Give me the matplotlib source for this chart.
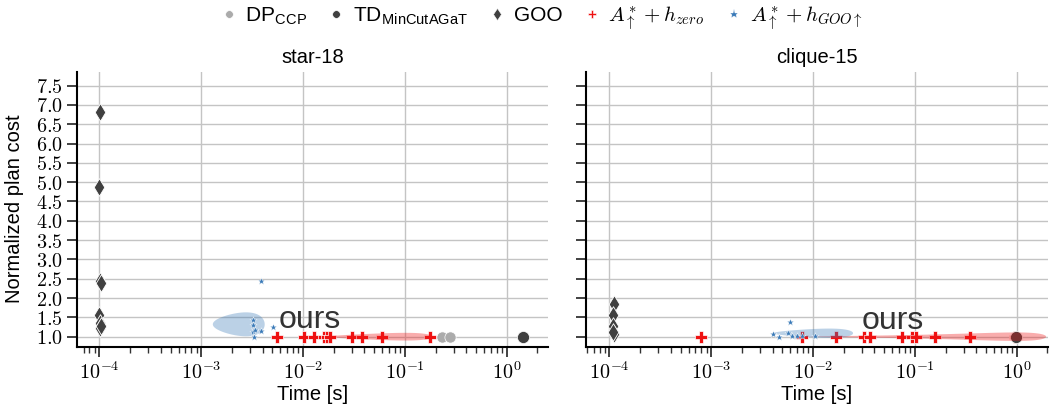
import numpy as np
import matplotlib
matplotlib.use('Agg')
import matplotlib.pyplot as plt
from matplotlib.lines import Line2D
from matplotlib.ticker import FuncFormatter, LogLocator, MultipleLocator

plt.rcParams['font.family'] = ['Liberation Sans', 'DejaVu Sans']
plt.rcParams['mathtext.fontset'] = 'cm'

TITLES = ["star-18", "clique-15"]

# per-panel data: (time [s], normalized plan cost)
dp_t = [[0.23, 0.275], []]
dp_c = [[1.0, 1.0], []]

td_t = [[1.45], [0.98]]
td_c = [[1.0], [1.0]]

goo_t = [[1.02e-4, 1.0e-4, 1.01e-4, 1.03e-4, 1.0e-4, 1.02e-4, 1.01e-4, 1.03e-4],
         [1.10e-4, 1.08e-4, 1.09e-4, 1.10e-4, 1.09e-4]]
goo_c = [[6.82, 4.88, 2.45, 2.40, 1.56, 1.35, 1.23, 1.28],
         [1.85, 1.56, 1.27, 1.08, 1.12]]

zero_t = [[0.0056, 0.0102, 0.0129, 0.016, 0.0172, 0.0184, 0.030, 0.038, 0.0596, 0.176],
          [0.00079, 0.00787, 0.0168, 0.0315, 0.036, 0.0743, 0.093, 0.103, 0.158, 0.346, 0.97]]
zero_c = [[1.0] * 10, [1.0] * 11]

goo_up_t = [[0.0039, 0.0032, 0.0032, 0.0032, 0.0034, 0.0039, 0.0051, 0.0033],
            [0.0040, 0.0046, 0.0059, 0.0057, 0.0062, 0.0070, 0.0078, 0.0104]]
goo_up_c = [[2.43, 1.42, 1.29, 1.11, 1.18, 1.15, 1.25, 1.0],
            [1.07, 1.0, 1.37, 1.1, 1.03, 1.03, 1.03, 1.03]]

# spread ellipses (center time, center cost, half-width time, half-height cost)
ell_zero = [(0.101, 1.0, 0.083, 0.10), (0.975, 1.0, 0.966, 0.11)]
ell_goo = [(0.00275, 1.32, 0.00145, 0.31), (0.0144, 1.09, 0.0103, 0.12)]

# "ours" label position
ours_t = [0.0058, 0.030]
ours_c = [1.22, 1.20]

LEGEND_LABELS = [r'DP$_\mathregular{CCP}$', r'TD$_\mathregular{MinCutAGaT}$', 'GOO',
                 r'$A^*_\uparrow + h_{zero}$', r'$A^*_\uparrow + h_{GOO\uparrow}$']

XLIMS = [(10 ** -4.219, 10 ** 0.405), (10 ** -4.229, 10 ** 0.307)]
YLIM = (0.745, 7.86)

C_DP = '#ababab'
C_TD = '#404040'
C_GOO = '#404040'
C_ZERO = '#ee1111'
C_GUP = '#3a7ab8'


def fill_ellipse(ax, cx, cy, a, b, color):
    t = np.linspace(0, 2 * np.pi, 400)
    ax.fill(cx + a * np.cos(t), cy + b * np.sin(t), color=color, alpha=0.34,
            lw=0, zorder=3)


fig = plt.figure(figsize=(10.64, 4.16), dpi=100)
axes = [fig.add_axes([0.0724, 0.167, 0.4427, 0.6606]),
        fig.add_axes([0.5508, 0.167, 0.4342, 0.6606])]

for i, ax in enumerate(axes):
    ax.set_xscale('log')
    ax.grid(True, which='major', color='#c4c4c4', lw=1.0, zorder=0)
    ax.set_axisbelow(True)

    ax.scatter(dp_t[i], dp_c[i], s=65, marker='o', color=C_DP,
               edgecolor='white', lw=0.5, zorder=2)
    ax.scatter(goo_t[i], goo_c[i], s=80, marker='d', color=C_GOO,
               edgecolor='white', lw=0.6, zorder=2)
    ax.scatter(zero_t[i], zero_c[i], s=65, marker='P', color=C_ZERO,
               edgecolor='white', lw=0.5, zorder=2.5)
    ax.scatter(td_t[i], td_c[i], s=75, marker='o', color=C_TD,
               edgecolor='white', lw=0.5, zorder=2.6)

    fill_ellipse(ax, *ell_zero[i], color=C_ZERO)
    fill_ellipse(ax, *ell_goo[i], color=C_GUP)

    ax.scatter(goo_up_t[i], goo_up_c[i], s=30, marker='*', color=C_GUP,
               edgecolor='white', lw=0.3, zorder=4)

    ax.text(ours_t[i], ours_c[i], 'ours', fontsize=23, color='#333333', zorder=5)

    ax.set_xlim(*XLIMS[i])
    ax.set_ylim(*YLIM)
    ax.yaxis.set_major_locator(MultipleLocator(0.5))
    ax.xaxis.set_major_locator(LogLocator(base=10, numticks=10))
    ax.xaxis.set_minor_locator(LogLocator(base=10, subs=np.arange(2, 10), numticks=20))
    ax.xaxis.set_major_formatter(FuncFormatter(lambda v, p: r'$10^{%d}$' % round(np.log10(v))))
    ax.yaxis.set_major_formatter(FuncFormatter(lambda v, p: r'$%.1f$' % v))

    for s in ['top', 'right']:
        ax.spines[s].set_visible(False)
    for s in ['left', 'bottom']:
        ax.spines[s].set_linewidth(1.5)
        ax.spines[s].set_color('black')
    ax.tick_params(which='major', length=7, width=1.3, labelsize=14.5, color='#333333')
    ax.tick_params(which='minor', length=4, width=1.0, color='#333333')
    ax.set_title(TITLES[i], fontsize=14.5)
    ax.set_xlabel('Time [s]', fontsize=14.5, labelpad=2)

axes[0].set_ylabel('Normalized plan cost', fontsize=14.5, labelpad=8)
axes[1].tick_params(axis='y', labelleft=False)

handles = [
    Line2D([], [], ls='', marker='o', ms=5.5, color=C_DP, mec='white', mew=0.4),
    Line2D([], [], ls='', marker='o', ms=5.5, color=C_TD, mec='white', mew=0.4),
    Line2D([], [], ls='', marker='d', ms=6.5, color=C_GOO, mec='white', mew=0.4),
    Line2D([], [], ls='', marker='P', ms=6, color=C_ZERO, mec='white', mew=0.4),
    Line2D([], [], ls='', marker='*', ms=6.5, color=C_GUP, mec='white', mew=0.3),
]
fig.legend(handles, LEGEND_LABELS, loc='upper center', bbox_to_anchor=(0.508, 1.035),
           ncol=5, frameon=False, fontsize=15, handlelength=1.0,
           handletextpad=0.3, columnspacing=0.9)

fig.savefig('out.png', dpi=100)
